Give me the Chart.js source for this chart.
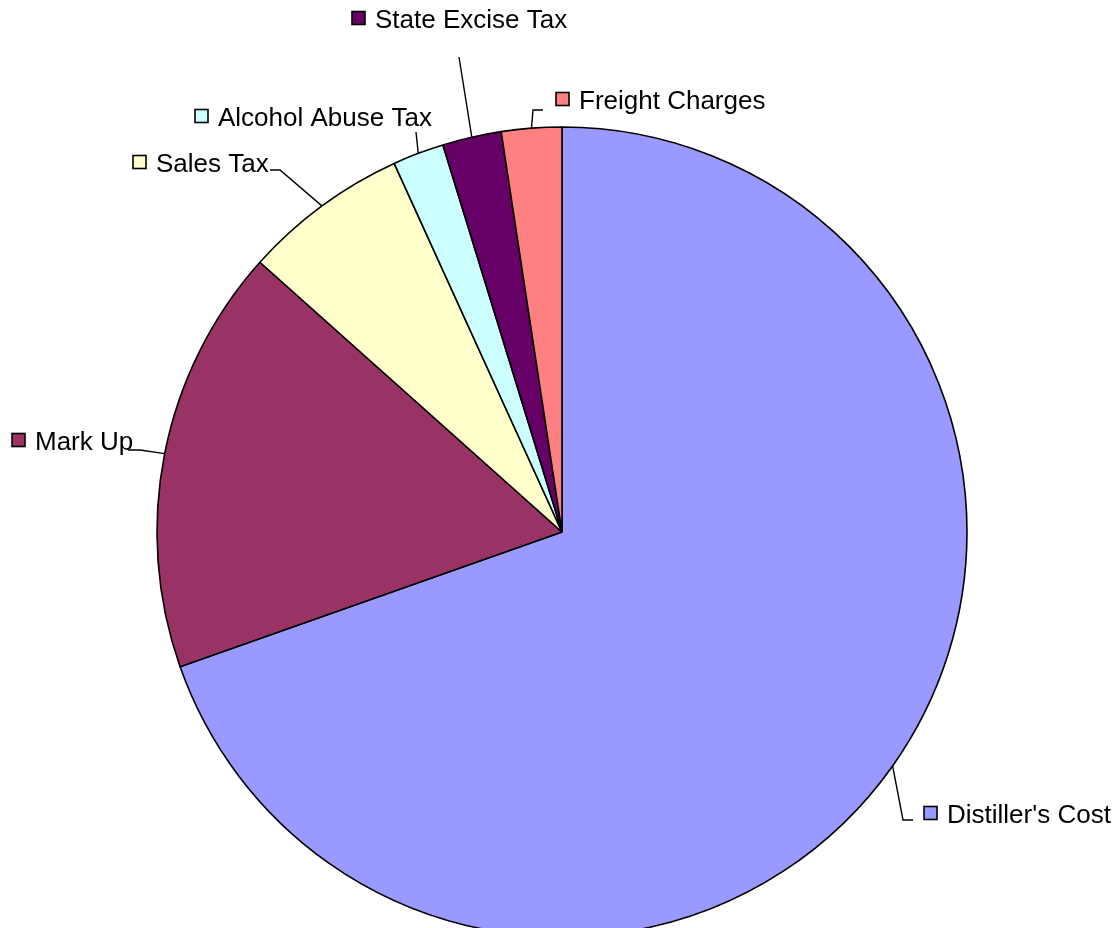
<!DOCTYPE html>
<html>
<head>
<meta charset="utf-8">
<title>Price breakdown</title>
<script src="https://cdn.jsdelivr.net/npm/chart.js@4/dist/chart.umd.min.js"></script>
<style>
  html, body { margin: 0; padding: 0; background: #fff; overflow: hidden; }
  canvas { display: block; }
</style>
</head>
<body>
<canvas id="pie" width="1116" height="950"></canvas>
<script>
// Slice data, clockwise from 12 o'clock
const categories = ["Distiller's Cost", 'Mark Up', 'Sales Tax', 'Alcohol Abuse Tax', 'State Excise Tax', 'Freight Charges'];
const shares = [69.6, 17.0, 6.6, 2.05, 2.35, 2.4];
const sliceColors = ['#9999FF', '#993366', '#FFFFCC', '#CCFFFF', '#660066', '#FF8080'];

// Label placement: key box (left x, centre y) and the bend points of each leader line
const labelSpots = [
  { x: 924, y: 813, bends: [[903, 820], [913, 820]] },
  { x: 12,  y: 440, bends: [[140, 450], [128, 450]] },
  { x: 133, y: 162, bends: [[280, 170], [270, 170]] },
  { x: 195, y: 116, bends: [[416, 132]] },
  { x: 352, y: 18,  bends: [[459, 57]] },
  { x: 556, y: 99,  bends: [[533, 110], [543, 110]] }
];

// Draws the outside labels with their leader lines
const calloutLabels = {
  id: 'calloutLabels',
  afterDatasetsDraw(chart) {
    const ctx = chart.ctx;
    const arcs = chart.getDatasetMeta(0).data;
    ctx.save();
    ctx.font = '26px "Liberation Sans", Arial, sans-serif';
    ctx.textBaseline = 'alphabetic';
    arcs.forEach((arc, i) => {
      const spot = labelSpots[i];
      const p = arc.getProps(['x', 'y', 'startAngle', 'endAngle', 'outerRadius'], true);
      const mid = (p.startAngle + p.endAngle) / 2;
      const ex = p.x + Math.cos(mid) * p.outerRadius;
      const ey = p.y + Math.sin(mid) * p.outerRadius;

      ctx.strokeStyle = '#000';
      ctx.lineWidth = 1.4;
      ctx.beginPath();
      ctx.moveTo(ex, ey);
      spot.bends.forEach(b => ctx.lineTo(b[0], b[1]));
      ctx.stroke();

      // little key box
      ctx.fillStyle = sliceColors[i];
      ctx.fillRect(spot.x, spot.y - 6.5, 13, 13);
      ctx.lineWidth = 1.6;
      ctx.strokeRect(spot.x, spot.y - 6.5, 13, 13);

      ctx.fillStyle = '#000';
      ctx.fillText(categories[i], spot.x + 23, spot.y + 9.5);
    });
    ctx.restore();
  }
};

const ctx = document.getElementById('pie').getContext('2d');
const pieChart = new Chart(ctx, {
  type: 'pie',
  data: {
    labels: categories,
    datasets: [{
      data: shares,
      backgroundColor: sliceColors,
      borderColor: '#000',
      borderWidth: 1.6
    }]
  },
  options: {
    responsive: false,
    animation: false,
    radius: 405,
    layout: {
      padding: { left: 157, right: 149, top: 127, bottom: 13 }
    },
    plugins: {
      legend: { display: false },
      tooltip: { enabled: false }
    }
  },
  plugins: [calloutLabels]
});
</script>
</body>
</html>
